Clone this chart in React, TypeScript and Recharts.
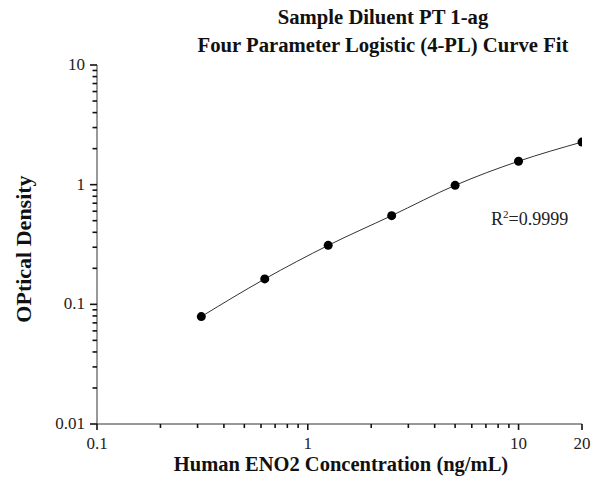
import { LineChart, Line, XAxis, YAxis } from 'recharts';

const concentration = [0.3125, 0.625, 1.25, 2.5, 5, 10, 20];
const opticalDensity = [0.079, 0.163, 0.311, 0.551, 0.987, 1.57, 2.27];

const xTicks = [0.1, 0.2, 0.3, 0.4, 0.5, 0.6, 0.7, 0.8, 0.9, 1, 2, 3, 4, 5, 6, 7, 8, 9, 10, 20];
const xLabels = [0.1, 1, 10, 20];
const yTicks = [
  0.01, 0.02, 0.03, 0.04, 0.05, 0.06, 0.07, 0.08, 0.09,
  0.1, 0.2, 0.3, 0.4, 0.5, 0.6, 0.7, 0.8, 0.9,
  1, 2, 3, 4, 5, 6, 7, 8, 9, 10,
];
const yLabels = [0.01, 0.1, 1, 10];

const data = concentration.map((x, i) => ({ x, y: opticalDensity[i] }));

const FONT = '"Liberation Serif", "Times New Roman", serif';
// recharts offsets custom ticks by tickSize + tickMargin
const TICK_OFFSET = 8;

const XTick = (props: any) => {
  const { x, payload } = props;
  const y = props.y - TICK_OFFSET;
  const v = payload.value;
  const major = xLabels.includes(v);
  return (
    <g>
      <line x1={x} y1={y} x2={x} y2={y + (major ? 6 : 4)} stroke="#111" strokeWidth={1.6} />
      {major && (
        <text x={x} y={y + 25} textAnchor="middle" fontSize={17} fontFamily={FONT} fill="#222">
          {String(v)}
        </text>
      )}
    </g>
  );
};

const YTick = (props: any) => {
  const { y, payload } = props;
  const x = props.x + TICK_OFFSET;
  const v = payload.value;
  const major = yLabels.includes(v);
  return (
    <g>
      <line x1={x} y1={y} x2={x - (major ? 7 : 4.5)} y2={y} stroke="#111" strokeWidth={1.6} />
      {major && (
        <text x={x - 12} y={y + 5} textAnchor="end" fontSize={17} fontFamily={FONT} fill="#222">
          {String(v)}
        </text>
      )}
    </g>
  );
};

const Dot = (props: any) => {
  const { cx, cy } = props;
  if (cx == null || cy == null) return null;
  return <circle cx={cx} cy={cy} r={4.5} fill="#000" />;
};

export default function App() {
  return (
    <div style={{ position: 'absolute', left: 0, top: 0, width: 599, height: 482, background: '#fff', fontFamily: FONT }}>
      <div style={{ position: 'absolute', left: 133, width: 500, top: 3, textAlign: 'center', fontWeight: 'bold', fontSize: 20.7, lineHeight: '28px', color: '#111' }}>
        Sample Diluent PT 1-ag
        <br />
        Four Parameter Logistic (4-PL) Curve Fit
      </div>
      <div style={{ position: 'absolute', left: 91, width: 500, top: 453, textAlign: 'center', fontWeight: 'bold', fontSize: 20.5, color: '#111' }}>
        Human ENO2 Concentration (ng/mL)
      </div>
      <div style={{ position: 'absolute', left: 24, top: 249, transform: 'translate(-50%, -50%) rotate(-90deg)', whiteSpace: 'nowrap', fontWeight: 'bold', fontSize: 22, color: '#111' }}>
        OPtical Density
      </div>
      <div style={{ position: 'absolute', left: 491, top: 208, fontSize: 18, color: '#222' }}>
        R<sup style={{ fontSize: 11 }}>2</sup>=0.9999
      </div>
      <LineChart width={599} height={482} data={data} margin={{ top: 65, right: 17, bottom: 0, left: 37 }}>
        <XAxis
          dataKey="x"
          type="number"
          scale="log"
          domain={[0.1, 20]}
          ticks={xTicks}
          interval={0}
          allowDataOverflow
          axisLine={{ stroke: '#333' }}
          tickLine={false}
          tickSize={6}
          tickMargin={2}
          tick={<XTick />}
          height={58}
        />
        <YAxis
          type="number"
          scale="log"
          domain={[0.01, 10]}
          ticks={yTicks}
          interval={0}
          allowDataOverflow
          axisLine={{ stroke: '#333' }}
          tickLine={false}
          tickSize={6}
          tickMargin={2}
          tick={<YTick />}
          width={60}
        />
        <Line
          dataKey="y"
          type="monotone"
          stroke="#333"
          strokeWidth={1}
          dot={<Dot />}
          activeDot={false}
          isAnimationActive={false}
        />
      </LineChart>
    </div>
  );
}
